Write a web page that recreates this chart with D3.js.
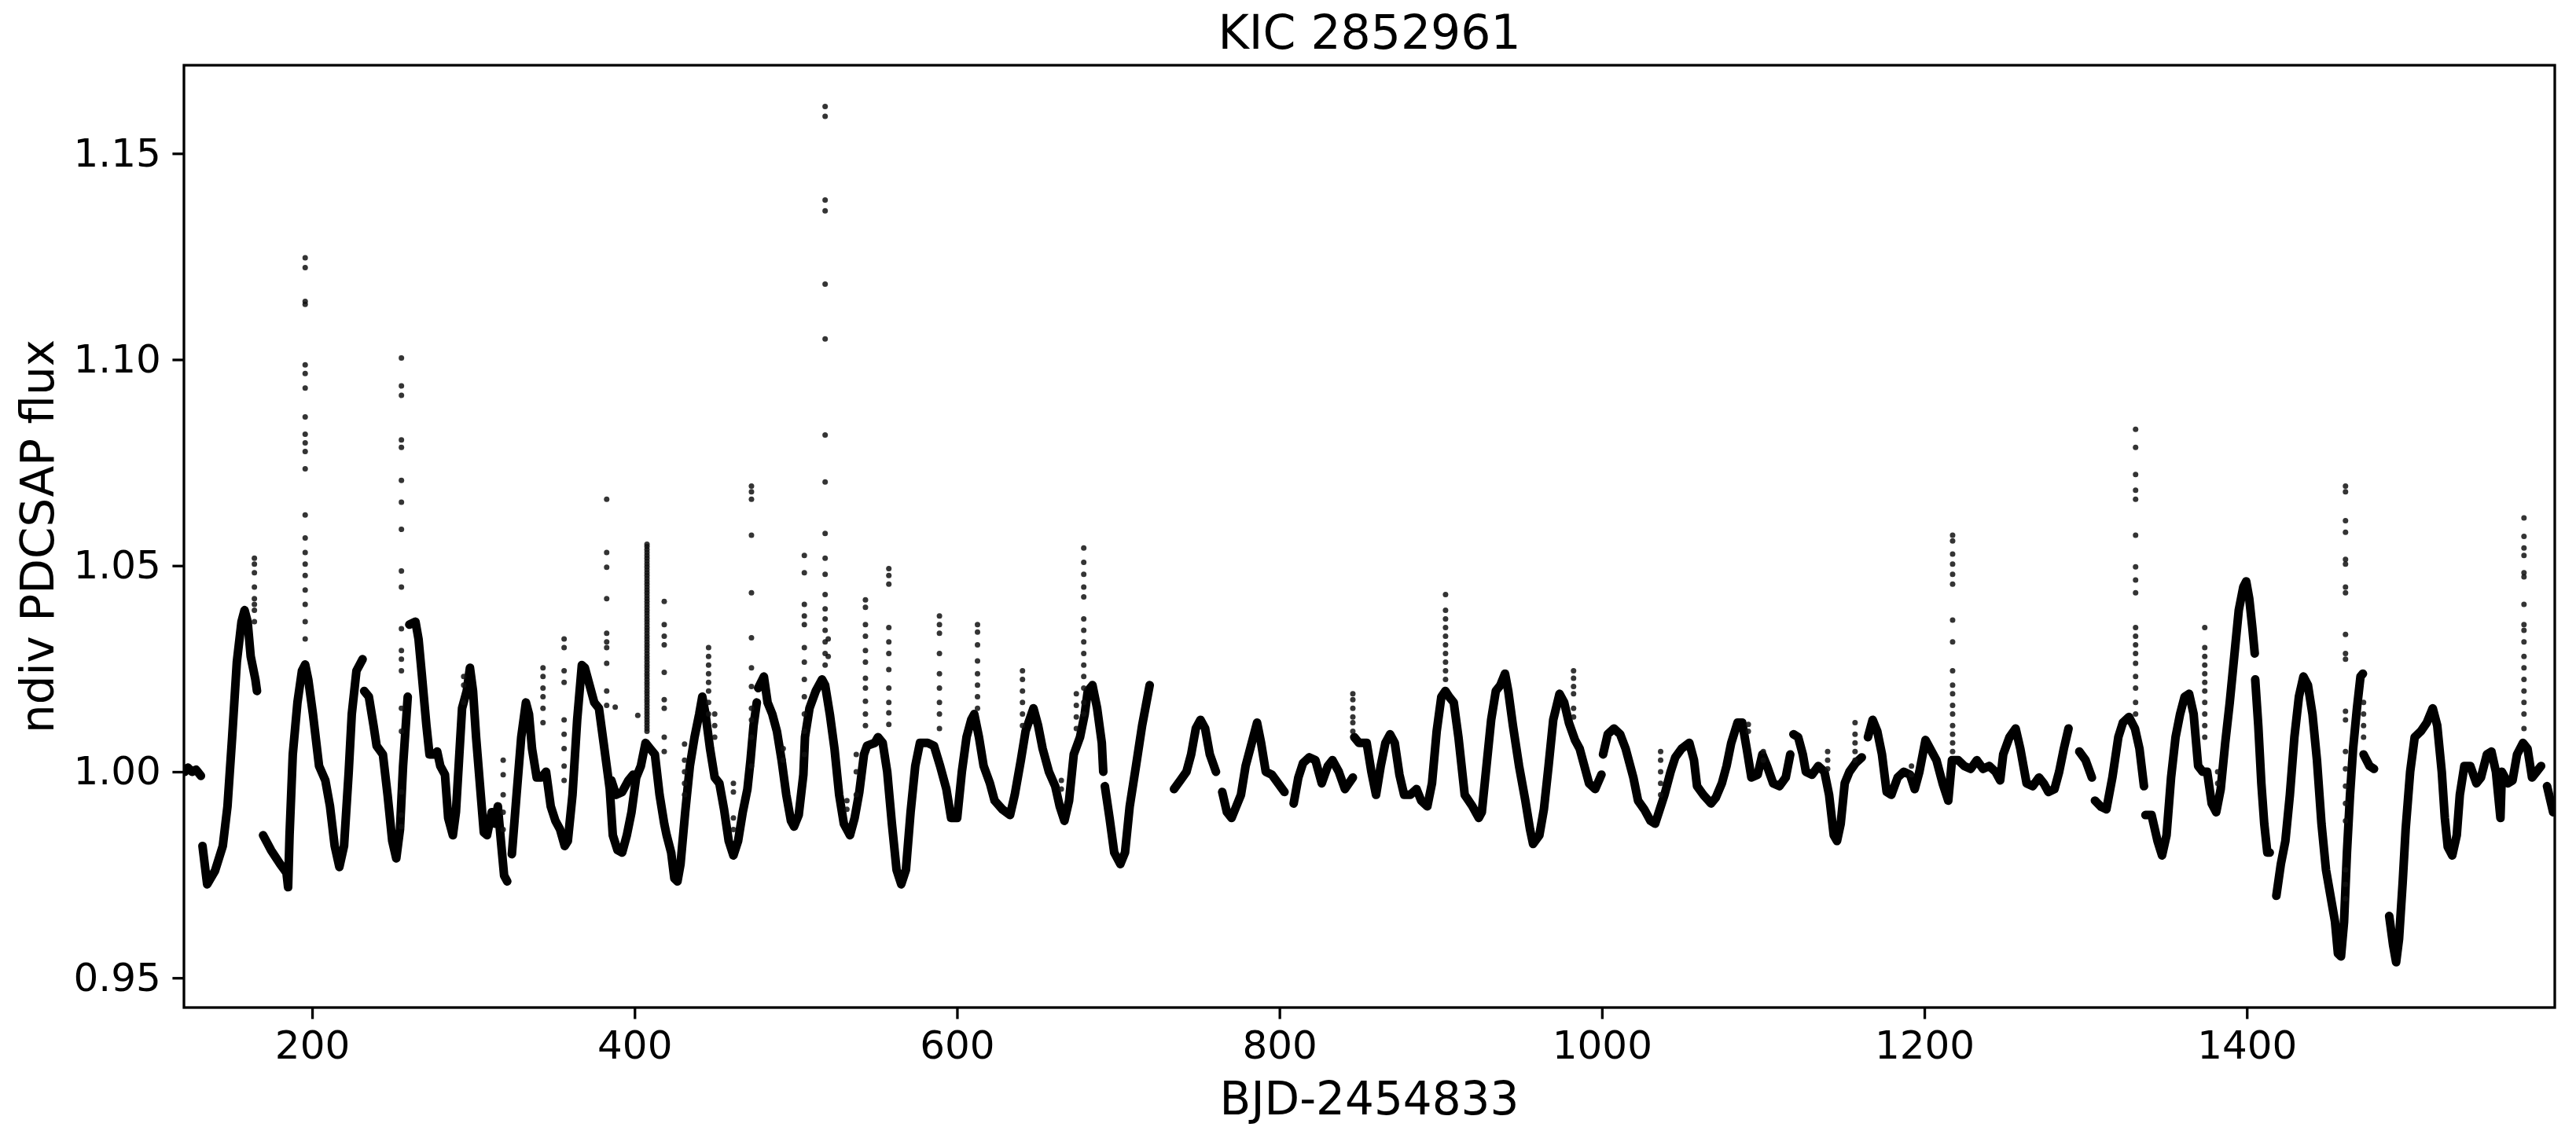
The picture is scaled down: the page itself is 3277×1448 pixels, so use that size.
<!DOCTYPE html>
<html>
<head>
<meta charset="utf-8">
<script src="https://cdn.jsdelivr.net/npm/d3@7"></script>
<style>
  body { margin: 0; background: #fff; }
  text { font-family: "DejaVu Sans", sans-serif; fill: #000; }
</style>
</head>
<body>
<div id="chart"></div>
<script>
// light curve pieces, [day, flux]
var q0 = [[121, 1.000], [123, 1.001], [125.5, 1.000], [128, 1.0005], [131, 0.999]];
var q1 = [[132.0, 0.982], [134.9, 0.9727], [139.8, 0.976], [144.6, 0.982], [147.5, 0.9916], [150.4, 1.0084],
  [153.3, 1.0266], [156.2, 1.0364], [158.1, 1.0392], [160.0, 1.0364], [161.9, 1.028], [164.8, 1.0224], [165.8, 1.0196]];
var q2a = [[169.6, 0.9846], [174.5, 0.981], [180.2, 0.9776], [184.1, 0.9755], [185.1, 0.972], [186.0, 0.9846],
  [188.0, 1.0042], [190.9, 1.0168], [193.7, 1.0245], [195.7, 1.026], [197.6, 1.0224], [200.5, 1.014], [204.3, 1.0014],
  [208.2, 0.9979], [211.1, 0.9916], [214.0, 0.982], [216.9, 0.9769], [219.8, 0.982], [222.7, 1.0], [224.6, 1.014],
  [227.5, 1.0245], [231.3, 1.0273]];
var q2b = [[232.3, 1.0196], [235.2, 1.0182], [238.1, 1.0112], [240.0, 1.0063], [243.9, 1.0042], [246.8, 0.9944],
  [249.7, 0.9832], [252.2, 0.979], [254.5, 0.986], [256.4, 1.0014], [259.3, 1.0182]];
var q3a = [[260.3, 1.0357], [264.1, 1.0364], [266.0, 1.0322], [268.0, 1.0238], [270.9, 1.0112], [272.8, 1.0042],
  [275.7, 1.0042], [277.6, 1.0049], [279.5, 1.0014], [282.4, 0.9993], [284.4, 0.9888], [287.3, 0.9846], [289.2, 0.9902],
  [291.1, 1.0028], [293.0, 1.0154], [295.9, 1.0196], [297.9, 1.0252], [299.8, 1.0196], [301.7, 1.0084], [304.6, 0.9944],
  [306.5, 0.9853], [308.5, 0.9846], [311.4, 0.9902], [313.3, 0.9874], [315.2, 0.9916], [317.1, 0.9832], [319.1, 0.9748],
  [321.0, 0.9734]];
var q3b = [[323.9, 0.980], [326.8, 0.9944], [329.7, 1.0084], [332.6, 1.0168], [334.5, 1.014], [336.4, 1.0056],
  [339.3, 0.9986], [342.2, 0.9986], [345.1, 1.0], [348.0, 0.9916], [350.9, 0.9881], [353.8, 0.986], [356.7, 0.982],
  [358.6, 0.9832], [361.5, 0.9944], [364.4, 1.0126], [367.3, 1.0259], [369.2, 1.0252], [372.1, 1.021], [375.0, 1.0168],
  [377.9, 1.0154], [380.8, 1.007], [382.7, 1.0014], [384.6, 0.9958], [386.5, 0.9846], [389.4, 0.981], [392.3, 0.9804],
  [395.2, 0.9846], [398.1, 0.9902], [401.0, 0.9986], [403.9, 1.0014], [406.8, 1.007], [409.7, 1.0056], [412.6, 1.0042],
  [415.5, 0.9944], [418.4, 0.9874], [419.9, 0.9846], [422.7, 0.9804], [424.7, 0.9741], [426.6, 0.9734], [428.5, 0.9776],
  [431.4, 0.9902], [434.3, 1.0014], [437.2, 1.0084], [440.1, 1.014], [442.0, 1.0182], [444.0, 1.014], [446.8, 1.0056],
  [449.7, 0.9986], [452.6, 0.9972], [455.5, 0.9909], [458.4, 0.9832], [461.3, 0.9797], [464.2, 0.9832], [467.1, 0.9902],
  [470.0, 0.9958], [471.9, 1.0028], [473.8, 1.0112], [475.8, 1.0168]];
var q3c = [[385.6, 0.9979], [388.5, 0.9944], [392.3, 0.9951], [396.2, 0.9979], [399.1, 0.9993]];
var q5 = [[476.7, 1.0203], [480.2, 1.0231], [482.5, 1.0168], [485.4, 1.014], [488.3, 1.0098], [491.2, 1.0028],
  [494.1, 0.9944], [497.0, 0.9881], [498.9, 0.9867], [501.8, 0.9895], [504.7, 0.9993], [505.7, 1.0084], [508.5, 1.0154],
  [512.4, 1.0196], [516.3, 1.0224], [518.2, 1.021], [521.1, 1.014], [524.0, 1.0056], [526.9, 0.9944], [529.8, 0.9874],
  [533.6, 0.9846], [536.5, 0.9888], [539.4, 0.9951], [542.3, 1.0042], [544.2, 1.0063], [549.0, 1.007], [551.0, 1.0084],
  [553.9, 1.007], [556.7, 1.0], [559.6, 0.9874], [562.5, 0.9762], [565.4, 0.9727], [568.3, 0.9762], [571.2, 0.9902],
  [574.1, 1.0014], [577.0, 1.007], [581.8, 1.007], [585.7, 1.0063], [589.5, 1.0014], [593.4, 0.9958], [596.3, 0.9888],
  [600.1, 0.9888], [603.0, 1.0], [605.9, 1.0084], [608.8, 1.0126], [610.7, 1.014], [613.6, 1.0084], [616.5, 1.0014],
  [620.4, 0.9972], [623.3, 0.993], [628.1, 0.9909], [632.9, 0.9895], [635.8, 0.9944], [639.6, 1.0028], [642.5, 1.0098],
  [647.4, 1.0154], [650.3, 1.0112], [653.1, 1.0056], [657.0, 1.0], [660.9, 0.9965], [663.7, 0.9916], [666.6, 0.9881],
  [669.5, 0.993], [672.4, 1.0042], [676.3, 1.0084], [679.2, 1.014], [681.1, 1.0196], [684.0, 1.021], [686.9, 1.0154],
  [689.8, 1.007], [690.7, 1.0]];
var q7 = [[691.7, 0.9965], [694.6, 0.9888], [697.5, 0.9804], [701.3, 0.9776], [704.2, 0.9804], [707.1, 0.9916],
  [711.0, 1.0014], [714.8, 1.0112], [719.5, 1.021]];
var q8a = [[734.6, 0.9958], [738.5, 0.9979], [742.3, 1.0], [745.2, 1.0042], [748.1, 1.0105], [751.0, 1.0126],
  [753.9, 1.0105], [756.8, 1.0042], [760.6, 1.0]];
var q8b = [[764.5, 0.9951], [767.4, 0.9902], [770.3, 0.9888], [773.2, 0.9916], [776.1, 0.9944], [779.0, 1.0014],
  [782.8, 1.007], [786.1, 1.0119], [788.6, 1.007], [791.5, 1.0], [795.3, 0.9993], [799.2, 0.9972], [803.1, 0.9951]];
var q9a = [[808.8, 0.9923], [811.7, 0.9986], [814.6, 1.0021], [818.5, 1.0035], [822.3, 1.0028], [826.2, 0.9972],
  [830.0, 1.0014], [832.9, 1.0028], [836.8, 1.0], [840.6, 0.9958], [845.5, 0.9986]];
var q9b = [[846.4, 1.0084], [849.3, 1.007], [854.1, 1.007], [857.0, 1.0], [859.9, 0.9944], [862.8, 1.0014],
  [865.7, 1.007], [868.6, 1.0091], [871.5, 1.007], [874.4, 0.9993], [877.3, 0.9944], [881.1, 0.9944], [885.0, 0.9958],
  [887.9, 0.993], [891.7, 0.9916], [894.6, 0.9972], [897.5, 1.0098], [900.4, 1.0182], [902.9, 1.0196], [905.2, 1.0182],
  [908.1, 1.0168], [911.0, 1.0084], [914.9, 0.9944], [919.7, 0.9916], [923.6, 0.9888], [925.5, 0.9902], [928.4, 1.0014],
  [931.3, 1.0126], [934.2, 1.0196], [937.0, 1.021], [939.9, 1.0238], [941.9, 1.0196], [944.8, 1.0112], [948.6, 1.0014],
  [952.5, 0.993], [955.4, 0.986], [957.3, 0.9825], [961.2, 0.9846], [964.0, 0.9909], [966.9, 1.0014], [969.8, 1.0126],
  [973.7, 1.0189], [976.6, 1.0168], [979.5, 1.0119], [983.3, 1.0077], [986.2, 1.0056], [989.1, 1.0014], [992.0, 0.9972],
  [995.8, 0.9958], [999.7, 0.9993]];
var q11 = [[1000.7, 1.0042], [1003.6, 1.0091], [1007.4, 1.0105], [1011.3, 1.0091], [1014.7, 1.0056], [1019.5, 0.9986],
  [1022.4, 0.993], [1026.2, 0.9909], [1030.1, 0.9881], [1033.0, 0.9874], [1035.9, 0.9909], [1038.8, 0.9944],
  [1042.6, 1.0], [1045.5, 1.0035], [1049.4, 1.0056], [1054.2, 1.007], [1057.1, 1.0028], [1059.0, 0.9965],
  [1062.9, 0.9944], [1067.7, 0.9923], [1070.6, 0.9937], [1074.4, 0.9972], [1077.3, 1.0014], [1080.2, 1.007],
  [1084.1, 1.0119], [1087.0, 1.0119], [1089.8, 1.0056], [1092.7, 0.9986], [1096.6, 0.9993], [1099.5, 1.0042],
  [1102.4, 1.0014], [1106.2, 0.9972], [1110.1, 0.9965], [1114.0, 0.9986], [1116.8, 1.0042]];
var q12 = [[1118.8, 1.0091], [1121.7, 1.0084], [1124.6, 1.0042], [1126.5, 1.0], [1130.3, 0.9993], [1134.2, 1.0014],
  [1138.0, 1.0], [1140.9, 0.9944], [1143.8, 0.9846], [1145.8, 0.9832], [1148.1, 0.9874], [1150.6, 0.9972],
  [1153.5, 1.0], [1157.3, 1.0021], [1161.2, 1.0035]];
var q13 = [[1165.0, 1.0084], [1167.9, 1.0126], [1170.8, 1.0098], [1173.7, 1.0042], [1176.6, 0.9951], [1179.5, 0.9944],
  [1183.4, 0.9986], [1187.2, 1.0], [1191.1, 0.9993], [1194.0, 0.9958], [1196.9, 1.0], [1200.7, 1.0077], [1203.6, 1.0056],
  [1207.5, 1.0028], [1211.3, 0.9972], [1214.8, 0.993], [1217.1, 1.0028], [1221.0, 1.0028], [1224.8, 1.0014],
  [1228.7, 1.0007], [1232.5, 1.0028], [1236.4, 1.0007], [1240.2, 1.0014], [1244.1, 1.0], [1247.0, 0.9979],
  [1248.9, 1.0042], [1252.8, 1.0084], [1256.6, 1.0105], [1259.5, 1.0056], [1263.4, 0.9972], [1267.2, 0.9965],
  [1271.1, 0.9986], [1274.0, 0.9972], [1276.9, 0.9951], [1280.7, 0.9958], [1283.6, 1.0], [1286.5, 1.0056],
  [1289.4, 1.0105]];
var q14a = [[1296.1, 1.0049], [1300.0, 1.0028], [1303.9, 0.9986]];
var q14b = [[1305.8, 0.993], [1309.6, 0.9915], [1312.9, 0.9909], [1316.6, 0.9986], [1320.3, 1.0084], [1323.1, 1.0119],
  [1326.9, 1.0133], [1330.6, 1.0105], [1333.4, 1.0056], [1336.2, 0.9965]];
var q14c = [[1337.1, 0.9895], [1340.9, 0.9895], [1344.6, 0.9832], [1347.4, 0.9797], [1350.2, 0.9846], [1353.0, 0.9986],
  [1355.8, 1.0084], [1358.6, 1.014], [1361.4, 1.0182], [1364.2, 1.0189], [1367.0, 1.014], [1369.8, 1.0014],
  [1372.6, 1.0], [1375.4, 1.0], [1378.2, 0.9923], [1381.0, 0.9902], [1383.8, 0.9958], [1386.6, 1.007], [1389.4, 1.0168],
  [1392.2, 1.028], [1395.0, 1.0392], [1397.8, 1.0448], [1399.6, 1.0462], [1401.5, 1.042], [1403.4, 1.035],
  [1404.9, 1.0287]];
var q15a = [[1405.2, 1.0224], [1407.1, 1.0112], [1409.0, 0.9972], [1410.8, 0.9874], [1412.7, 0.9804], [1414.2, 0.9804]];
var q15b = [[1418.3, 0.9699], [1421.1, 0.9776], [1423.9, 0.9832], [1426.7, 0.9944], [1429.5, 1.0084], [1432.3, 1.0182],
  [1435.1, 1.0231], [1437.9, 1.021], [1440.7, 1.014], [1443.5, 1.0028], [1446.3, 0.9874], [1449.1, 0.9762],
  [1451.9, 0.9699], [1454.7, 0.9636], [1456.5, 0.9559], [1458.4, 0.9552], [1460.3, 0.9636], [1462.1, 0.9804],
  [1464.0, 0.9944], [1465.9, 1.0056], [1468.3, 1.0154], [1470.5, 1.0231], [1472.0, 1.0238]];
var q16a = [[1472.4, 1.0042], [1476.1, 1.0014], [1478.9, 1.0007]];
var q16b = [[1488.3, 0.965], [1490.7, 0.958], [1492.6, 0.9538], [1494.4, 0.9594], [1496.7, 0.9734], [1498.5, 0.986],
  [1501.3, 1.0], [1504.1, 1.0084], [1507.9, 1.0098], [1511.6, 1.0119], [1515.3, 1.0154], [1518.1, 1.0112],
  [1520.9, 1.0], [1522.8, 0.9888], [1524.6, 0.9818], [1527.4, 0.9797], [1530.2, 0.9846], [1532.1, 0.9944],
  [1534.9, 1.0014], [1538.6, 1.0014], [1542.4, 0.9972], [1545.2, 0.9986], [1548.9, 1.0042], [1551.7, 1.0049],
  [1554.5, 1.0], [1557.3, 0.9888], [1558.2, 1.0], [1562.0, 0.9972], [1564.8, 0.9979], [1567.6, 1.0042],
  [1571.3, 1.007], [1574.1, 1.0056], [1576.9, 0.9986], [1579.7, 1.0], [1582.5, 1.0014]];
var q17 = [[1586.2, 0.9965], [1590.0, 0.9902]];

var segments = [q0, q1, q2a, q2b, q3a, q3b, q3c, q5, q7, q8a, q8b, q9a, q9b, q11, q12, q13, q14a, q14b, q14c,
  q15a, q15b, q16a, q16b, q17];

// flare points: time of each column and the flux of its loose dots
var flareDays = [164.2, 195.7, 255.4, 294, 318.5, 343.2, 356.3, 382.7, 388, 402, 407.7, 418.4, 431, 445.9, 449.7,
  461.3, 472.5, 492.2, 505.3, 518.2, 520.1, 531.7, 537.5, 543.2, 557.7, 589.1, 612.7, 640.6, 664.7, 674, 678.6,
  845.5, 903, 982.4, 1036.4, 1090.8, 1100.1, 1140, 1157, 1192, 1217.5, 1331, 1373.9, 1381.9, 1461.2, 1472.4, 1571.9];
var flareFlux = [
  [1.0518, 1.0504, 1.0483, 1.0448, 1.042, 1.0406, 1.0392, 1.0364],
  [1.1247, 1.1223, 1.1141, 1.1134, 1.0987, 1.0966, 1.0931, 1.0861, 1.0819, 1.0798, 1.0777, 1.0735, 1.0623, 1.0567,
    1.0532, 1.0504, 1.0476, 1.0441, 1.0406, 1.0364, 1.0322],
  [1.1004, 1.0936, 1.0913, 1.0805, 1.0787, 1.0707, 1.0654, 1.0588, 1.0487, 1.0448, 1.0347, 1.0294, 1.0273, 1.0245,
    1.0154, 1.0098, 0.9951, 0.9895, 0.9867],
  [1.0231, 1.021, 1.0168],
  [1.0028, 0.9993, 0.9944, 0.9902, 0.986],
  [1.0252, 1.0231, 1.0203, 1.0182, 1.0154, 1.0119],
  [1.0322, 1.0301, 1.0245, 1.0217, 1.0126, 1.0091, 1.0056, 1.0014, 0.9979],
  [1.0661, 1.0532, 1.0496, 1.042, 1.0336, 1.0315, 1.0301, 1.0263, 1.0196, 1.0161],
  [1.0157],
  [1.0137],
  [1.0552, 1.0546, 1.0539, 1.0532, 1.0525, 1.0518, 1.0511, 1.0504, 1.0497, 1.049, 1.0483, 1.0476, 1.0469, 1.0462,
    1.0455, 1.0448, 1.0441, 1.0434, 1.0427, 1.042, 1.0413, 1.0406, 1.0399, 1.0392, 1.0385, 1.0378, 1.0371, 1.0364,
    1.0357, 1.035, 1.0343, 1.0336, 1.0329, 1.0322, 1.0315, 1.0308, 1.0301, 1.0294, 1.0287, 1.028, 1.0273, 1.0266,
    1.0259, 1.0252, 1.0245, 1.0238, 1.0231, 1.0224, 1.0217, 1.021, 1.0203, 1.0196, 1.0189, 1.0182, 1.0175, 1.0168,
    1.0161, 1.0154, 1.0147, 1.014, 1.0133, 1.0126, 1.0119, 1.0112, 1.0105, 1.0098],
  [1.0413, 1.0357, 1.0329, 1.0308, 1.0241, 1.0175, 1.0154, 1.0084, 1.0049],
  [1.0067, 1.0028, 1.0, 0.9972, 0.9944],
  [1.0301, 1.028, 1.0259, 1.0238, 1.0217, 1.0196, 1.0168, 1.014],
  [1.014, 1.0112, 1.0084],
  [0.9972, 0.9951, 0.9888, 0.986],
  [1.0693, 1.0679, 1.0661, 1.0574, 1.0434, 1.0325, 1.0252, 1.0207, 1.0154, 1.0126, 1.0084, 1.0014],
  [1.0056, 1.0028],
  [1.0525, 1.0483, 1.0406, 1.0378, 1.0357, 1.0301, 1.0266, 1.0224, 1.0182, 1.014, 1.0098, 1.0042],
  [1.1614, 1.159, 1.1387, 1.1361, 1.1183, 1.105, 1.0817, 1.0703, 1.0578, 1.0518, 1.0479, 1.043, 1.0395, 1.0371,
    1.0343, 1.0315, 1.0287, 1.0259],
  [1.0322, 1.028],
  [0.993, 0.9909],
  [1.0042, 1.0, 0.9944],
  [1.0417, 1.0399, 1.0357, 1.0329, 1.0294, 1.0266, 1.0227, 1.0203, 1.0171, 1.014, 1.0112],
  [1.0493, 1.0476, 1.0455, 1.035, 1.0315, 1.0287, 1.0248, 1.0203, 1.0168, 1.0143, 1.0115],
  [1.0378, 1.0357, 1.0336, 1.0287, 1.0238, 1.0203, 1.0168, 1.014, 1.0105],
  [1.0357, 1.0339, 1.0308, 1.0269, 1.0238, 1.021, 1.0182, 1.0154],
  [1.0245, 1.0224, 1.0196, 1.0168, 1.014, 1.0112],
  [0.9979, 0.9958],
  [1.0189, 1.0161, 1.0133, 1.0105],
  [1.0543, 1.0508, 1.0479, 1.0448, 1.0424, 1.0371, 1.0343, 1.0315, 1.0287, 1.0259, 1.0231, 1.0203, 1.0168, 1.014],
  [1.0189, 1.0175, 1.0154, 1.0133, 1.0119, 1.0098],
  [1.043, 1.0392, 1.0371, 1.035, 1.0329, 1.0308, 1.0287, 1.0266, 1.0245, 1.0224],
  [1.0245, 1.0227, 1.0207, 1.0189, 1.0154, 1.0133],
  [1.0049, 1.0028, 1.0, 0.9972, 0.9944],
  [1.0115, 1.0098],
  [1.0049, 1.0028],
  [1.0049, 1.0028, 1.0007],
  [1.0119, 1.0091, 1.007, 1.0049, 1.0028],
  [1.0014, 0.9993],
  [1.0574, 1.056, 1.0528, 1.0504, 1.0479, 1.0455, 1.0368, 1.0315, 1.0245, 1.021, 1.0189, 1.0161, 1.014, 1.0112,
    1.0091, 1.007, 1.0049],
  [1.0831, 1.0787, 1.0721, 1.0683, 1.0661, 1.0574, 1.0497, 1.0465, 1.0434, 1.035, 1.0329, 1.0308, 1.0287, 1.0263,
    1.0231, 1.0203, 1.0168, 1.014],
  [1.035, 1.0301, 1.028, 1.0259, 1.0238, 1.0217, 1.0196, 1.0168, 1.014, 1.0112, 1.0084],
  [1.0, 0.9972],
  [1.0693, 1.0679, 1.0609, 1.0581, 1.0515, 1.0504, 1.0448, 1.0434, 1.0333, 1.0287, 1.0273, 1.0147, 1.0126, 1.0049,
    1.0007, 0.9965, 0.9923, 0.9881, 0.9762, 0.9727, 0.9692],
  [1.0168, 1.014, 1.0112, 1.0084],
  [1.0616, 1.0571, 1.0543, 1.0525, 1.0483, 1.0473, 1.0406, 1.0357, 1.0343, 1.0315, 1.028, 1.0252, 1.0224, 1.0196,
    1.0168, 1.014, 1.0105]
];

var xTicks = [200, 400, 600, 800, 1000, 1200, 1400];
var yTicks = [0.95, 1.00, 1.05, 1.10, 1.15];

var svgWidth = 3277;
var svgHeight = 1448;
var margin = { top: 83, right: 27, bottom: 166, left: 234 };
var chartWidth = svgWidth - margin.left - margin.right;
var chartHeight = svgHeight - margin.top - margin.bottom;

var svg = d3.select("#chart")
  .append("svg")
  .attr("width", svgWidth)
  .attr("height", svgHeight);

svg.append("rect").attr("width", svgWidth).attr("height", svgHeight).attr("fill", "#fff");

var chart = svg.append("g")
  .attr("transform", "translate(" + margin.left + "," + margin.top + ")");

var x = d3.scaleLinear().domain([120.5, 1591]).range([0, chartWidth]);
var y = d3.scaleLinear().domain([0.9428, 1.1714]).range([chartHeight, 0]);

chart.append("clipPath").attr("id", "clip")
  .append("rect").attr("width", chartWidth).attr("height", chartHeight);

var plot = chart.append("g").attr("clip-path", "url(#clip)");

var line = d3.line()
  .x(d => x(d[0]))
  .y(d => y(d[1]));

plot.selectAll(".seg")
  .data(segments)
  .enter()
  .append("path")
  .attr("class", "seg")
  .attr("d", line)
  .attr("fill", "none")
  .attr("stroke", "#000")
  .attr("stroke-width", 11)
  .attr("stroke-linejoin", "round")
  .attr("stroke-linecap", "round");

var flarePts = [];
flareDays.forEach(function(t, i) {
  flareFlux[i].forEach(function(f) { flarePts.push([t, f]); });
});

plot.selectAll(".flare")
  .data(flarePts)
  .enter()
  .append("circle")
  .attr("class", "flare")
  .attr("cx", d => x(d[0]))
  .attr("cy", d => y(d[1]))
  .attr("r", 3.5)
  .attr("fill", "#111")
  .attr("opacity", 0.85);

// axes, matplotlib-like ticks
var bottomAxis = d3.axisBottom(x).tickValues(xTicks).tickSize(14.6).tickPadding(14.6).tickSizeOuter(0)
  .tickFormat(d3.format("d"));
var leftAxis = d3.axisLeft(y).tickValues(yTicks).tickSize(14.6).tickPadding(14.6).tickSizeOuter(0)
  .tickFormat(d3.format(".2f"));

var gx = chart.append("g")
  .attr("transform", `translate(0, ${chartHeight})`)
  .call(bottomAxis);
var gy = chart.append("g")
  .call(leftAxis);

[gx, gy].forEach(function(g) {
  g.select(".domain").remove();
  g.selectAll(".tick line").attr("stroke", "#000").attr("stroke-width", 3.3);
  g.selectAll(".tick text").attr("font-size", 50).attr("font-family", "DejaVu Sans").attr("fill", "#000");
});

chart.append("rect")
  .attr("width", chartWidth)
  .attr("height", chartHeight)
  .attr("fill", "none")
  .attr("stroke", "#000")
  .attr("stroke-width", 3.3);

svg.append("text")
  .attr("x", margin.left + chartWidth / 2)
  .attr("y", 62)
  .attr("text-anchor", "middle")
  .attr("font-size", 60)
  .text("KIC 2852961");

svg.append("text")
  .attr("x", margin.left + chartWidth / 2)
  .attr("y", 1418)
  .attr("text-anchor", "middle")
  .attr("font-size", 58)
  .text("BJD-2454833");

svg.append("text")
  .attr("transform", "translate(68," + (margin.top + chartHeight / 2) + ") rotate(-90)")
  .attr("text-anchor", "middle")
  .attr("font-size", 58)
  .text("ndiv PDCSAP flux");
</script>
</body>
</html>
